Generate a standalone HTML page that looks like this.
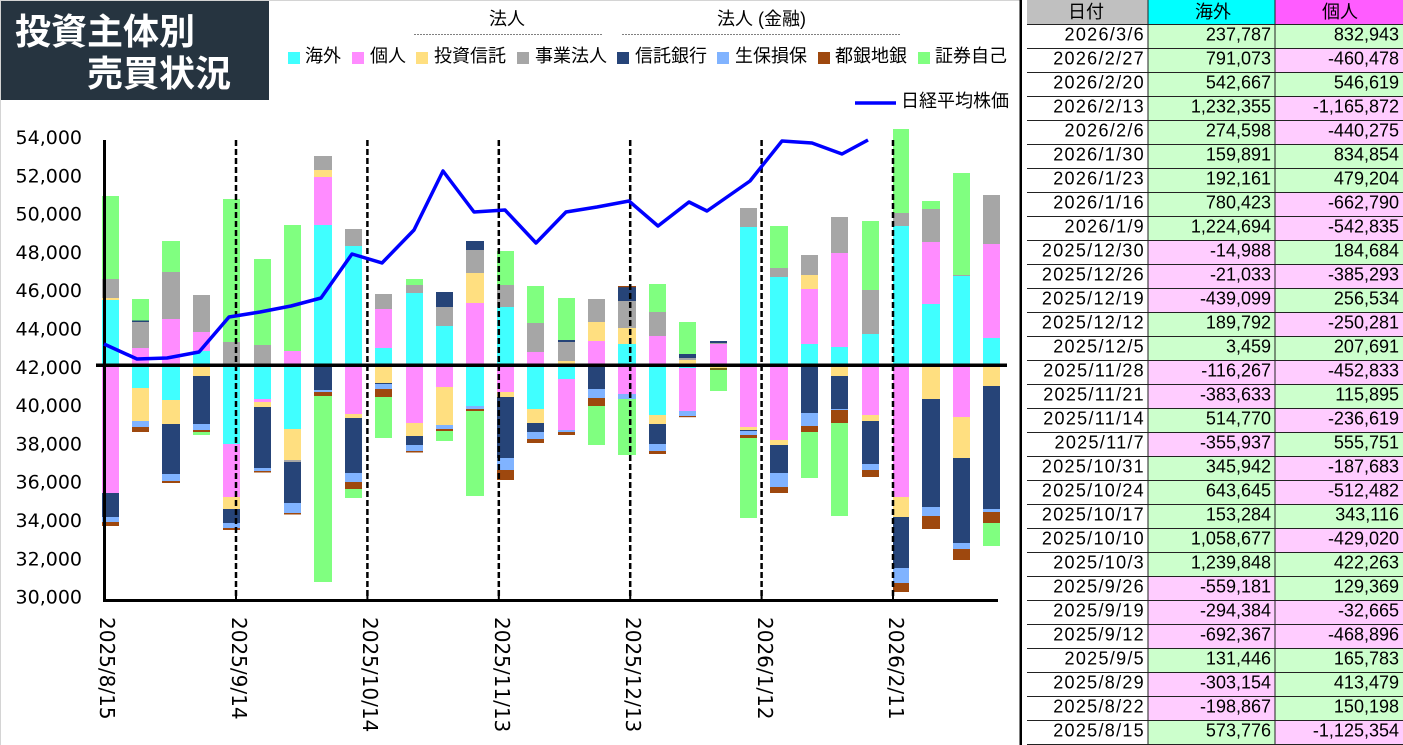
<!DOCTYPE html>
<html><head><meta charset="utf-8">
<style>
html,body{margin:0;padding:0;background:#fff;}
body{width:1403px;height:745px;overflow:hidden;position:relative;}
svg{position:absolute;left:0;top:0;}
.c{fill:#40ffff}.p{fill:#ff8cff}.y{fill:#ffdf80}.g{fill:#a6a6a6}.n{fill:#264478}.l{fill:#80b3ff}.b{fill:#9e480e}.e{fill:#80ff80}
.jp{font-family:"Liberation Sans","Noto Sans CJK JP",sans-serif;font-size:18px;fill:#000}
.ax{font-family:"DejaVu Sans",sans-serif;font-size:19px;fill:#000}
.xl{font-family:"DejaVu Sans",sans-serif;font-size:20px;fill:#000}
.t{font-family:"Liberation Sans",sans-serif;font-size:18px;fill:#000}
.d{font-family:"Liberation Sans",sans-serif;font-size:18px;fill:#000;letter-spacing:1.3px}
</style></head>
<body>
<svg width="1403" height="745" viewBox="0 0 1403 745" xmlns="http://www.w3.org/2000/svg">
<!-- page border -->
<rect x="0" y="0" width="1020" height="1" fill="#d4d4d4"/>
<rect x="0" y="0" width="1" height="745" fill="#d4d4d4"/>
<!-- title -->
<rect x="1" y="1" width="268" height="99" fill="#263440"/>
<text x="15" y="44" font-family="'Noto Sans CJK JP',sans-serif" font-weight="bold" font-size="36" fill="#fff">投資主体別</text>
<text x="87" y="86" font-family="'Noto Sans CJK JP',sans-serif" font-weight="bold" font-size="36" fill="#fff">売買状況</text>

<!-- legend -->
<text class="jp" x="489" y="25">法人</text>
<text class="jp" x="717" y="25">法人 (金融)</text>
<line x1="414" y1="34.5" x2="602" y2="34.5" stroke="#808080" stroke-width="1" stroke-dasharray="2 1"/>
<line x1="622" y1="34.5" x2="900" y2="34.5" stroke="#808080" stroke-width="1" stroke-dasharray="2 1"/>
<rect x="288" y="52" width="12" height="12" class="c"/><text class="jp" x="305" y="62">海外</text>
<rect x="352" y="52" width="12" height="12" class="p"/><text class="jp" x="370" y="62">個人</text>
<rect x="416" y="52" width="12" height="12" class="y"/><text class="jp" x="434" y="62">投資信託</text>
<rect x="517" y="52" width="12" height="12" class="g"/><text class="jp" x="535" y="62">事業法人</text>
<rect x="617" y="52" width="12" height="12" class="n"/><text class="jp" x="635" y="62">信託銀行</text>
<rect x="717" y="52" width="12" height="12" class="l"/><text class="jp" x="735" y="62">生保損保</text>
<rect x="818" y="52" width="12" height="12" class="b"/><text class="jp" x="835" y="62">都銀地銀</text>
<rect x="918" y="52" width="12" height="12" class="e"/><text class="jp" x="935" y="62">証券自己</text>
<line x1="855" y1="103" x2="896" y2="103" stroke="#0000ff" stroke-width="3.5"/>
<text class="jp" x="901" y="107">日経平均株価</text>

<!-- y axis labels -->
<g class="ax" text-anchor="end">
<text x="82" y="144">54,000</text>
<text x="82" y="182.3">52,000</text>
<text x="82" y="220.6">50,000</text>
<text x="82" y="258.9">48,000</text>
<text x="82" y="297.2">46,000</text>
<text x="82" y="335.5">44,000</text>
<text x="82" y="373.8">42,000</text>
<text x="82" y="412.1">40,000</text>
<text x="82" y="450.4">38,000</text>
<text x="82" y="488.7">36,000</text>
<text x="82" y="527">34,000</text>
<text x="82" y="565.3">32,000</text>
<text x="82" y="603.6">30,000</text>
</g>

<!-- bars -->
<g>
<!-- 1 -->
<rect x="102" y="300" width="17" height="65" class="c"/><rect x="102" y="298" width="17" height="2" class="y"/><rect x="102" y="279" width="17" height="19" class="g"/><rect x="102" y="196" width="17" height="83" class="e"/>
<rect x="102" y="365" width="17" height="128" class="p"/><rect x="102" y="493" width="17" height="24" class="n"/><rect x="102" y="517" width="17" height="5" class="l"/><rect x="102" y="522" width="17" height="4" class="b"/>
<!-- 2 -->
<rect x="132" y="348" width="17" height="17" class="p"/><rect x="132" y="322" width="17" height="26" class="g"/><rect x="132" y="320.5" width="17" height="1.5" class="n"/><rect x="132" y="299" width="17" height="21.5" class="e"/>
<rect x="132" y="365" width="17" height="23" class="c"/><rect x="132" y="388" width="17" height="33" class="y"/><rect x="132" y="421" width="17" height="6" class="l"/><rect x="132" y="427" width="17" height="5" class="b"/>
<!-- 3 -->
<rect x="162" y="319" width="18" height="46" class="p"/><rect x="162" y="272" width="18" height="47" class="g"/><rect x="162" y="241" width="18" height="31" class="e"/>
<rect x="162" y="365" width="18" height="35" class="c"/><rect x="162" y="400" width="18" height="24" class="y"/><rect x="162" y="424" width="18" height="50" class="n"/><rect x="162" y="474" width="18" height="7" class="l"/><rect x="162" y="481" width="18" height="2" class="b"/>
<!-- 4 -->
<rect x="193" y="351" width="17" height="14" class="c"/><rect x="193" y="332" width="17" height="19" class="p"/><rect x="193" y="295" width="17" height="37" class="g"/>
<rect x="193" y="365" width="17" height="11" class="y"/><rect x="193" y="376" width="17" height="48" class="n"/><rect x="193" y="424" width="17" height="6" class="l"/><rect x="193" y="430" width="17" height="2" class="b"/><rect x="193" y="432" width="17" height="3" class="e"/>
<!-- 5 -->
<rect x="223" y="342" width="17" height="23" class="g"/><rect x="223" y="199" width="17" height="143" class="e"/>
<rect x="223" y="365" width="17" height="79" class="c"/><rect x="223" y="444" width="17" height="53" class="p"/><rect x="223" y="497" width="17" height="12" class="y"/><rect x="223" y="509" width="17" height="14" class="n"/><rect x="223" y="523" width="17" height="5" class="l"/><rect x="223" y="528" width="17" height="2" class="b"/>
<!-- 6 -->
<rect x="254" y="345" width="17" height="20" class="g"/><rect x="254" y="259" width="17" height="86" class="e"/>
<rect x="254" y="365" width="17" height="34" class="c"/><rect x="254" y="399" width="17" height="3" class="p"/><rect x="254" y="402" width="17" height="5" class="y"/><rect x="254" y="407" width="17" height="61" class="n"/><rect x="254" y="468" width="17" height="3" class="l"/><rect x="254" y="471" width="17" height="1.5" class="b"/>
<!-- 7 -->
<rect x="284" y="351" width="17" height="14" class="p"/><rect x="284" y="225" width="17" height="126" class="e"/>
<rect x="284" y="365" width="17" height="64" class="c"/><rect x="284" y="429" width="17" height="31" class="y"/><rect x="284" y="460" width="17" height="2" class="g"/><rect x="284" y="462" width="17" height="41" class="n"/><rect x="284" y="503" width="17" height="10" class="l"/><rect x="284" y="513" width="17" height="1.5" class="b"/>
<!-- 8 -->
<rect x="314" y="225" width="18" height="140" class="c"/><rect x="314" y="177" width="18" height="48" class="p"/><rect x="314" y="170" width="18" height="7" class="y"/><rect x="314" y="156" width="18" height="14" class="g"/>
<rect x="314" y="365" width="18" height="25" class="n"/><rect x="314" y="390" width="18" height="2" class="l"/><rect x="314" y="392" width="18" height="4" class="b"/><rect x="314" y="396" width="18" height="186" class="e"/>
<!-- 9 -->
<rect x="345" y="246" width="17" height="119" class="c"/><rect x="345" y="229" width="17" height="17" class="g"/>
<rect x="345" y="365" width="17" height="49" class="p"/><rect x="345" y="414" width="17" height="4" class="y"/><rect x="345" y="418" width="17" height="55" class="n"/><rect x="345" y="473" width="17" height="9" class="l"/><rect x="345" y="482" width="17" height="7" class="b"/><rect x="345" y="489" width="17" height="9" class="e"/>
<!-- 10 -->
<rect x="375" y="348" width="17" height="17" class="c"/><rect x="375" y="309" width="17" height="39" class="p"/><rect x="375" y="294" width="17" height="15" class="g"/>
<rect x="375" y="365" width="17" height="18" class="y"/><rect x="375" y="383" width="17" height="1.5" class="n"/><rect x="375" y="384" width="17" height="5" class="l"/><rect x="375" y="389" width="17" height="8" class="b"/><rect x="375" y="397" width="17" height="41" class="e"/>
<!-- 11 -->
<rect x="406" y="293" width="17" height="72" class="c"/><rect x="406" y="285" width="17" height="8" class="g"/><rect x="406" y="279" width="17" height="6" class="e"/>
<rect x="406" y="365" width="17" height="58" class="p"/><rect x="406" y="423" width="17" height="13" class="y"/><rect x="406" y="436" width="17" height="9" class="n"/><rect x="406" y="445" width="17" height="6" class="l"/><rect x="406" y="451" width="17" height="1.5" class="b"/>
<!-- 12 -->
<rect x="436" y="326" width="17" height="39" class="c"/><rect x="436" y="307" width="17" height="19" class="g"/><rect x="436" y="292" width="17" height="15" class="n"/>
<rect x="436" y="365" width="17" height="22" class="p"/><rect x="436" y="387" width="17" height="38" class="y"/><rect x="436" y="425" width="17" height="4" class="l"/><rect x="436" y="429" width="17" height="2" class="b"/><rect x="436" y="431" width="17" height="10" class="e"/>
<!-- 13 -->
<rect x="466" y="303" width="18" height="62" class="p"/><rect x="466" y="273" width="18" height="30" class="y"/><rect x="466" y="250" width="18" height="23" class="g"/><rect x="466" y="241" width="18" height="9" class="n"/>
<rect x="466" y="365" width="18" height="41" class="c"/><rect x="466" y="406" width="18" height="3" class="l"/><rect x="466" y="409" width="18" height="2" class="b"/><rect x="466" y="411" width="18" height="85" class="e"/>
<!-- 14 -->
<rect x="497" y="307" width="17" height="58" class="c"/><rect x="497" y="285" width="17" height="22" class="g"/><rect x="497" y="251" width="17" height="34" class="e"/>
<rect x="497" y="365" width="17" height="27" class="p"/><rect x="497" y="392" width="17" height="5" class="y"/><rect x="497" y="397" width="17" height="61" class="n"/><rect x="497" y="458" width="17" height="12" class="l"/><rect x="497" y="470" width="17" height="10" class="b"/>
<!-- 15 -->
<rect x="527" y="352" width="17" height="13" class="p"/><rect x="527" y="323" width="17" height="29" class="g"/><rect x="527" y="286" width="17" height="37" class="e"/>
<rect x="527" y="365" width="17" height="44" class="c"/><rect x="527" y="409" width="17" height="14" class="y"/><rect x="527" y="423" width="17" height="9" class="n"/><rect x="527" y="432" width="17" height="7" class="l"/><rect x="527" y="439" width="17" height="4" class="b"/>
<!-- 16 -->
<rect x="558" y="361" width="17" height="4" class="y"/><rect x="558" y="342" width="17" height="19" class="g"/><rect x="558" y="340" width="17" height="2" class="n"/><rect x="558" y="298" width="17" height="42" class="e"/>
<rect x="558" y="365" width="17" height="14" class="c"/><rect x="558" y="379" width="17" height="51" class="p"/><rect x="558" y="430" width="17" height="2" class="l"/><rect x="558" y="432" width="17" height="3" class="b"/>
<!-- 17 -->
<rect x="588" y="341" width="17" height="24" class="p"/><rect x="588" y="322" width="17" height="19" class="y"/><rect x="588" y="299" width="17" height="23" class="g"/>
<rect x="588" y="365" width="17" height="24" class="n"/><rect x="588" y="389" width="17" height="9" class="l"/><rect x="588" y="398" width="17" height="8" class="b"/><rect x="588" y="406" width="17" height="39" class="e"/>
<!-- 18 -->
<rect x="618" y="344" width="18" height="21" class="c"/><rect x="618" y="328" width="18" height="16" class="y"/><rect x="618" y="301" width="18" height="27" class="g"/><rect x="618" y="287" width="18" height="14" class="n"/><rect x="618" y="286" width="18" height="1.2" class="b"/>
<rect x="618" y="365" width="18" height="29" class="p"/><rect x="618" y="394" width="18" height="5" class="l"/><rect x="618" y="399" width="18" height="56" class="e"/>
<!-- 19 -->
<rect x="649" y="336" width="17" height="29" class="p"/><rect x="649" y="312" width="17" height="24" class="g"/><rect x="649" y="284" width="17" height="28" class="e"/>
<rect x="649" y="365" width="17" height="50" class="c"/><rect x="649" y="415" width="17" height="9" class="y"/><rect x="649" y="424" width="17" height="20" class="n"/><rect x="649" y="444" width="17" height="7" class="l"/><rect x="649" y="451" width="17" height="3" class="b"/>
<!-- 20 -->
<rect x="679" y="360" width="17" height="5" class="y"/><rect x="679" y="358" width="17" height="2" class="g"/><rect x="679" y="354" width="17" height="4" class="n"/><rect x="679" y="322" width="17" height="32" class="e"/>
<rect x="679" y="365" width="17" height="3" class="c"/><rect x="679" y="368" width="17" height="43" class="p"/><rect x="679" y="411" width="17" height="5" class="l"/><rect x="679" y="416" width="17" height="1.2" class="b"/>
<!-- 21 -->
<rect x="710" y="344" width="17" height="21" class="p"/><rect x="710" y="343" width="17" height="1" class="g"/><rect x="710" y="341" width="17" height="2" class="n"/>
<rect x="710" y="365" width="17" height="3" class="y"/><rect x="710" y="368" width="17" height="2" fill="#7a6a18"/><rect x="710" y="370" width="17" height="21" class="e"/>
<!-- 22 -->
<rect x="740" y="227" width="17" height="138" class="c"/><rect x="740" y="208" width="17" height="19" class="g"/>
<rect x="740" y="365" width="17" height="62" class="p"/><rect x="740" y="427" width="17" height="3" class="y"/><rect x="740" y="430" width="17" height="1" class="n"/><rect x="740" y="431" width="17" height="4" class="l"/><rect x="740" y="435" width="17" height="3" class="b"/><rect x="740" y="438" width="17" height="80" class="e"/>
<!-- 23 -->
<rect x="770" y="277" width="18" height="88" class="c"/><rect x="770" y="268" width="18" height="9" class="g"/><rect x="770" y="226" width="18" height="42" class="e"/>
<rect x="770" y="365" width="18" height="75" class="p"/><rect x="770" y="440" width="18" height="5" class="y"/><rect x="770" y="445" width="18" height="28" class="n"/><rect x="770" y="473" width="18" height="14" class="l"/><rect x="770" y="487" width="18" height="6" class="b"/>
<!-- 24 -->
<rect x="801" y="344" width="17" height="21" class="c"/><rect x="801" y="289" width="17" height="55" class="p"/><rect x="801" y="275" width="17" height="14" class="y"/><rect x="801" y="255" width="17" height="20" class="g"/>
<rect x="801" y="365" width="17" height="48" class="n"/><rect x="801" y="413" width="17" height="13" class="l"/><rect x="801" y="426" width="17" height="6" class="b"/><rect x="801" y="432" width="17" height="46" class="e"/>
<!-- 25 -->
<rect x="831" y="347" width="17" height="18" class="c"/><rect x="831" y="253" width="17" height="94" class="p"/><rect x="831" y="217" width="17" height="36" class="g"/>
<rect x="831" y="365" width="17" height="11" class="y"/><rect x="831" y="376" width="17" height="33" class="n"/><rect x="831" y="409" width="17" height="1" class="l"/><rect x="831" y="410" width="17" height="13" class="b"/><rect x="831" y="423" width="17" height="93" class="e"/>
<!-- 26 -->
<rect x="862" y="334" width="17" height="31" class="c"/><rect x="862" y="290" width="17" height="44" class="g"/><rect x="862" y="221" width="17" height="69" class="e"/>
<rect x="862" y="365" width="17" height="50" class="p"/><rect x="862" y="415" width="17" height="6" class="y"/><rect x="862" y="421" width="17" height="43" class="n"/><rect x="862" y="464" width="17" height="6" class="l"/><rect x="862" y="470" width="17" height="7" class="b"/>
<!-- 27 -->
<rect x="893" y="226" width="16" height="139" class="c"/><rect x="893" y="213" width="16" height="13" class="g"/><rect x="893" y="129" width="16" height="84" class="e"/>
<rect x="893" y="365" width="16" height="132" class="p"/><rect x="893" y="497" width="16" height="20" class="y"/><rect x="893" y="517" width="16" height="51" class="n"/><rect x="893" y="568" width="16" height="15" class="l"/><rect x="893" y="583" width="16" height="9" class="b"/>
<!-- 28 -->
<rect x="922" y="304" width="18" height="61" class="c"/><rect x="922" y="242" width="18" height="62" class="p"/><rect x="922" y="209" width="18" height="33" class="g"/><rect x="922" y="201" width="18" height="8" class="e"/>
<rect x="922" y="365" width="18" height="34" class="y"/><rect x="922" y="399" width="18" height="108" class="n"/><rect x="922" y="507" width="18" height="9" class="l"/><rect x="922" y="516" width="18" height="13" class="b"/>
<!-- 29 -->
<rect x="953" y="276" width="17" height="89" class="c"/><rect x="953" y="275" width="17" height="1" class="g"/><rect x="953" y="173" width="17" height="102" class="e"/>
<rect x="953" y="365" width="17" height="52" class="p"/><rect x="953" y="417" width="17" height="41" class="y"/><rect x="953" y="458" width="17" height="85" class="n"/><rect x="953" y="543" width="17" height="6" class="l"/><rect x="953" y="549" width="17" height="11" class="b"/>
<!-- 30 -->
<rect x="983" y="338" width="17" height="27" class="c"/><rect x="983" y="244" width="17" height="94" class="p"/><rect x="983" y="195" width="17" height="49" class="g"/>
<rect x="983" y="365" width="17" height="21" class="y"/><rect x="983" y="386" width="17" height="123" class="n"/><rect x="983" y="509" width="17" height="3" class="l"/><rect x="983" y="512" width="17" height="11" class="b"/><rect x="983" y="523" width="17" height="23" class="e"/>
</g>

<!-- dashed month lines -->
<g stroke="#000" stroke-width="2.5" stroke-dasharray="6 3">
<line x1="236" y1="140" x2="236" y2="600"/>
<line x1="367.4" y1="140" x2="367.4" y2="600"/>
<line x1="498.8" y1="140" x2="498.8" y2="600"/>
<line x1="630.2" y1="140" x2="630.2" y2="600"/>
<line x1="761.6" y1="140" x2="761.6" y2="600"/>
<line x1="893" y1="140" x2="893" y2="600"/>
</g>

<!-- axes -->
<rect x="96" y="363.5" width="911" height="3.5" fill="#000"/>
<rect x="103" y="140" width="3" height="462" fill="#000"/>
<rect x="103" y="599" width="895" height="3" fill="#000"/>
<g fill="#000">
<rect x="235" y="595" width="2" height="5"/><rect x="366.4" y="595" width="2" height="5"/><rect x="497.8" y="595" width="2" height="5"/>
<rect x="629.2" y="595" width="2" height="5"/><rect x="760.6" y="595" width="2" height="5"/><rect x="892" y="595" width="2" height="5"/>
</g>

<!-- Nikkei line -->
<polyline fill="none" stroke="#0000ff" stroke-width="3.5" stroke-linejoin="round"
points="104,344 137,359 167,358 199,352 229,317 260,312 291,306 321,298 352,254 382,263 414,230 443,171 474,212 505,210 536,243 566,212 597,207 629,201 658,226 689,202 707,211 750,181 782,141 812,143 842,154 868,140"/>

<!-- x labels -->
<g class="xl">
<text transform="translate(100,617) rotate(90)">2025/8/15</text>
<text transform="translate(232,617) rotate(90)">2025/9/14</text>
<text transform="translate(363,617) rotate(90)">2025/10/14</text>
<text transform="translate(495,617) rotate(90)">2025/11/13</text>
<text transform="translate(626,617) rotate(90)">2025/12/13</text>
<text transform="translate(758,617) rotate(90)">2026/1/12</text>
<text transform="translate(889,617) rotate(90)">2026/2/11</text>
</g>

<!-- table -->
<rect x="1019.5" y="0" width="2.5" height="745" fill="#000"/>
<rect x="1027" y="0" width="121" height="24" fill="#c0c0c0"/>
<rect x="1148" y="0" width="127" height="24" fill="#00ffff"/>
<rect x="1275" y="0" width="128" height="24" fill="#ff5cff"/>
<text class="jp" x="1086" y="18" text-anchor="middle">日付</text>
<text class="jp" x="1213" y="18" text-anchor="middle">海外</text>
<text class="jp" x="1340" y="18" text-anchor="middle">個人</text>

<g>
<!-- cell backgrounds: G=#ccffcc, P=#ffccff -->
<rect x="1148" y="24" width="127" height="24" fill="#ccffcc"/><rect x="1275" y="24" width="128" height="24" fill="#ccffcc"/>
<rect x="1148" y="48" width="127" height="24" fill="#ccffcc"/><rect x="1275" y="48" width="128" height="24" fill="#ffccff"/>
<rect x="1148" y="72" width="127" height="24" fill="#ccffcc"/><rect x="1275" y="72" width="128" height="24" fill="#ccffcc"/>
<rect x="1148" y="96" width="127" height="24" fill="#ccffcc"/><rect x="1275" y="96" width="128" height="24" fill="#ffccff"/>
<rect x="1148" y="120" width="127" height="24" fill="#ccffcc"/><rect x="1275" y="120" width="128" height="24" fill="#ffccff"/>
<rect x="1148" y="144" width="127" height="24" fill="#ccffcc"/><rect x="1275" y="144" width="128" height="24" fill="#ccffcc"/>
<rect x="1148" y="168" width="127" height="24" fill="#ccffcc"/><rect x="1275" y="168" width="128" height="24" fill="#ccffcc"/>
<rect x="1148" y="192" width="127" height="24" fill="#ccffcc"/><rect x="1275" y="192" width="128" height="24" fill="#ffccff"/>
<rect x="1148" y="216" width="127" height="24" fill="#ccffcc"/><rect x="1275" y="216" width="128" height="24" fill="#ffccff"/>
<rect x="1148" y="240" width="127" height="24" fill="#ffccff"/><rect x="1275" y="240" width="128" height="24" fill="#ccffcc"/>
<rect x="1148" y="264" width="127" height="24" fill="#ffccff"/><rect x="1275" y="264" width="128" height="24" fill="#ffccff"/>
<rect x="1148" y="288" width="127" height="24" fill="#ffccff"/><rect x="1275" y="288" width="128" height="24" fill="#ccffcc"/>
<rect x="1148" y="312" width="127" height="24" fill="#ccffcc"/><rect x="1275" y="312" width="128" height="24" fill="#ffccff"/>
<rect x="1148" y="336" width="127" height="24" fill="#ccffcc"/><rect x="1275" y="336" width="128" height="24" fill="#ccffcc"/>
<rect x="1148" y="360" width="127" height="24" fill="#ffccff"/><rect x="1275" y="360" width="128" height="24" fill="#ffccff"/>
<rect x="1148" y="384" width="127" height="24" fill="#ffccff"/><rect x="1275" y="384" width="128" height="24" fill="#ccffcc"/>
<rect x="1148" y="408" width="127" height="24" fill="#ccffcc"/><rect x="1275" y="408" width="128" height="24" fill="#ffccff"/>
<rect x="1148" y="432" width="127" height="24" fill="#ffccff"/><rect x="1275" y="432" width="128" height="24" fill="#ccffcc"/>
<rect x="1148" y="456" width="127" height="24" fill="#ccffcc"/><rect x="1275" y="456" width="128" height="24" fill="#ffccff"/>
<rect x="1148" y="480" width="127" height="24" fill="#ccffcc"/><rect x="1275" y="480" width="128" height="24" fill="#ffccff"/>
<rect x="1148" y="504" width="127" height="24" fill="#ccffcc"/><rect x="1275" y="504" width="128" height="24" fill="#ccffcc"/>
<rect x="1148" y="528" width="127" height="24" fill="#ccffcc"/><rect x="1275" y="528" width="128" height="24" fill="#ffccff"/>
<rect x="1148" y="552" width="127" height="24" fill="#ccffcc"/><rect x="1275" y="552" width="128" height="24" fill="#ccffcc"/>
<rect x="1148" y="576" width="127" height="24" fill="#ffccff"/><rect x="1275" y="576" width="128" height="24" fill="#ccffcc"/>
<rect x="1148" y="600" width="127" height="24" fill="#ffccff"/><rect x="1275" y="600" width="128" height="24" fill="#ffccff"/>
<rect x="1148" y="624" width="127" height="24" fill="#ffccff"/><rect x="1275" y="624" width="128" height="24" fill="#ffccff"/>
<rect x="1148" y="648" width="127" height="24" fill="#ccffcc"/><rect x="1275" y="648" width="128" height="24" fill="#ccffcc"/>
<rect x="1148" y="672" width="127" height="24" fill="#ffccff"/><rect x="1275" y="672" width="128" height="24" fill="#ccffcc"/>
<rect x="1148" y="696" width="127" height="24" fill="#ffccff"/><rect x="1275" y="696" width="128" height="24" fill="#ccffcc"/>
<rect x="1148" y="720" width="127" height="25" fill="#ccffcc"/><rect x="1275" y="720" width="128" height="25" fill="#ffccff"/>
</g>

<!-- grid lines -->
<g fill="#222">
<rect x="1027" y="24" width="376" height="1"/><rect x="1027" y="48" width="376" height="1"/><rect x="1027" y="72" width="376" height="1"/>
<rect x="1027" y="96" width="376" height="1"/><rect x="1027" y="120" width="376" height="1"/><rect x="1027" y="144" width="376" height="1"/>
<rect x="1027" y="168" width="376" height="1"/><rect x="1027" y="192" width="376" height="1"/><rect x="1027" y="216" width="376" height="1"/>
<rect x="1027" y="240" width="376" height="1"/><rect x="1027" y="264" width="376" height="1"/><rect x="1027" y="288" width="376" height="1"/>
<rect x="1027" y="312" width="376" height="1"/><rect x="1027" y="336" width="376" height="1"/><rect x="1027" y="360" width="376" height="1"/>
<rect x="1027" y="384" width="376" height="1"/><rect x="1027" y="408" width="376" height="1"/><rect x="1027" y="432" width="376" height="1"/>
<rect x="1027" y="456" width="376" height="1"/><rect x="1027" y="480" width="376" height="1"/><rect x="1027" y="504" width="376" height="1"/>
<rect x="1027" y="528" width="376" height="1"/><rect x="1027" y="552" width="376" height="1"/><rect x="1027" y="576" width="376" height="1"/>
<rect x="1027" y="600" width="376" height="1"/><rect x="1027" y="624" width="376" height="1"/><rect x="1027" y="648" width="376" height="1"/>
<rect x="1027" y="672" width="376" height="1"/><rect x="1027" y="696" width="376" height="1"/><rect x="1027" y="720" width="376" height="1"/>
<rect x="1027" y="744" width="376" height="1"/>
<rect x="1147.5" y="0" width="1" height="745"/><rect x="1274.5" y="0" width="1" height="745"/>
</g>

<!-- table text -->
<g class="d" text-anchor="end">
<text x="1145" y="40.5">2026/3/6</text>
<text x="1145" y="64.5">2026/2/27</text>
<text x="1145" y="88.5">2026/2/20</text>
<text x="1145" y="112.5">2026/2/13</text>
<text x="1145" y="136.5">2026/2/6</text>
<text x="1145" y="160.5">2026/1/30</text>
<text x="1145" y="184.5">2026/1/23</text>
<text x="1145" y="208.5">2026/1/16</text>
<text x="1145" y="232.5">2026/1/9</text>
<text x="1145" y="256.5">2025/12/30</text>
<text x="1145" y="280.5">2025/12/26</text>
<text x="1145" y="304.5">2025/12/19</text>
<text x="1145" y="328.5">2025/12/12</text>
<text x="1145" y="352.5">2025/12/5</text>
<text x="1145" y="376.5">2025/11/28</text>
<text x="1145" y="400.5">2025/11/21</text>
<text x="1145" y="424.5">2025/11/14</text>
<text x="1145" y="448.5">2025/11/7</text>
<text x="1145" y="472.5">2025/10/31</text>
<text x="1145" y="496.5">2025/10/24</text>
<text x="1145" y="520.5">2025/10/17</text>
<text x="1145" y="544.5">2025/10/10</text>
<text x="1145" y="568.5">2025/10/3</text>
<text x="1145" y="592.5">2025/9/26</text>
<text x="1145" y="616.5">2025/9/19</text>
<text x="1145" y="640.5">2025/9/12</text>
<text x="1145" y="664.5">2025/9/5</text>
<text x="1145" y="688.5">2025/8/29</text>
<text x="1145" y="712.5">2025/8/22</text>
<text x="1145" y="736.5">2025/8/15</text>
</g>
<g class="t" text-anchor="end">
<text x="1271" y="40.5">237,787</text><text x="1399" y="40.5">832,943</text>
<text x="1271" y="64.5">791,073</text><text x="1399" y="64.5">-460,478</text>
<text x="1271" y="88.5">542,667</text><text x="1399" y="88.5">546,619</text>
<text x="1271" y="112.5">1,232,355</text><text x="1399" y="112.5">-1,165,872</text>
<text x="1271" y="136.5">274,598</text><text x="1399" y="136.5">-440,275</text>
<text x="1271" y="160.5">159,891</text><text x="1399" y="160.5">834,854</text>
<text x="1271" y="184.5">192,161</text><text x="1399" y="184.5">479,204</text>
<text x="1271" y="208.5">780,423</text><text x="1399" y="208.5">-662,790</text>
<text x="1271" y="232.5">1,224,694</text><text x="1399" y="232.5">-542,835</text>
<text x="1271" y="256.5">-14,988</text><text x="1399" y="256.5">184,684</text>
<text x="1271" y="280.5">-21,033</text><text x="1399" y="280.5">-385,293</text>
<text x="1271" y="304.5">-439,099</text><text x="1399" y="304.5">256,534</text>
<text x="1271" y="328.5">189,792</text><text x="1399" y="328.5">-250,281</text>
<text x="1271" y="352.5">3,459</text><text x="1399" y="352.5">207,691</text>
<text x="1271" y="376.5">-116,267</text><text x="1399" y="376.5">-452,833</text>
<text x="1271" y="400.5">-383,633</text><text x="1399" y="400.5">115,895</text>
<text x="1271" y="424.5">514,770</text><text x="1399" y="424.5">-236,619</text>
<text x="1271" y="448.5">-355,937</text><text x="1399" y="448.5">555,751</text>
<text x="1271" y="472.5">345,942</text><text x="1399" y="472.5">-187,683</text>
<text x="1271" y="496.5">643,645</text><text x="1399" y="496.5">-512,482</text>
<text x="1271" y="520.5">153,284</text><text x="1399" y="520.5">343,116</text>
<text x="1271" y="544.5">1,058,677</text><text x="1399" y="544.5">-429,020</text>
<text x="1271" y="568.5">1,239,848</text><text x="1399" y="568.5">422,263</text>
<text x="1271" y="592.5">-559,181</text><text x="1399" y="592.5">129,369</text>
<text x="1271" y="616.5">-294,384</text><text x="1399" y="616.5">-32,665</text>
<text x="1271" y="640.5">-692,367</text><text x="1399" y="640.5">-468,896</text>
<text x="1271" y="664.5">131,446</text><text x="1399" y="664.5">165,783</text>
<text x="1271" y="688.5">-303,154</text><text x="1399" y="688.5">413,479</text>
<text x="1271" y="712.5">-198,867</text><text x="1399" y="712.5">150,198</text>
<text x="1271" y="736.5">573,776</text><text x="1399" y="736.5">-1,125,354</text>
</g>
</svg>
</body></html>
